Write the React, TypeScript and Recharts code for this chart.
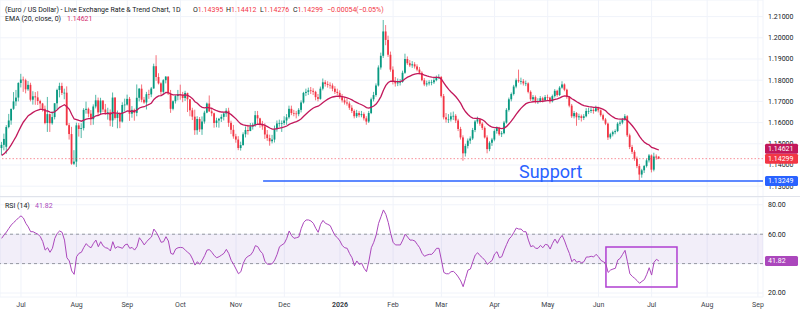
import React from 'react';
import {
  ComposedChart,
  Bar,
  Line,
  XAxis,
  YAxis,
  CartesianGrid,
  ReferenceLine,
  ReferenceArea,
  ReferenceDot,
} from 'recharts';

// ---------------- data (daily EUR/USD bars; index 0 = 1 Jul 2025) ----------------
const FIRST_BAR = -8;

const OPEN = [
  1.1480, 1.1495, 1.1486, 1.1579, 1.1610, 1.1665, 1.1700, 1.1718, 1.1787, 1.1803,
  1.1800, 1.1757, 1.1778, 1.1708, 1.1724, 1.1719, 1.1702, 1.1690, 1.1665, 1.1598,
  1.1640, 1.1597, 1.1626, 1.1691, 1.1754, 1.1773, 1.1740, 1.1741, 1.1588, 1.1546,
  1.1406, 1.1416, 1.1587, 1.1570, 1.1574, 1.1660, 1.1665, 1.1642, 1.1616, 1.1676,
  1.1705, 1.1648, 1.1704, 1.1662, 1.1647, 1.1649, 1.1610, 1.1718, 1.1622, 1.1642,
  1.1605, 1.1683, 1.1685, 1.1712, 1.1642, 1.1660, 1.1646, 1.1717, 1.1760, 1.1708,
  1.1695, 1.1734, 1.1733, 1.1761, 1.1866, 1.1815, 1.1785, 1.1745, 1.1800, 1.1817,
  1.1737, 1.1665, 1.1701, 1.1725, 1.1734, 1.1730, 1.1716, 1.1740, 1.1710, 1.1658,
  1.1628, 1.1564, 1.1617, 1.1568, 1.1605, 1.1647, 1.1690, 1.1653, 1.1644, 1.1598,
  1.1610, 1.1618, 1.1627, 1.1643, 1.1656, 1.1599, 1.1566, 1.1535, 1.1520, 1.1480,
  1.1494, 1.1545, 1.1565, 1.1560, 1.1582, 1.1590, 1.1635, 1.1620, 1.1591, 1.1582,
  1.1544, 1.1527, 1.1512, 1.1520, 1.1569, 1.1596, 1.1597, 1.1598, 1.1610, 1.1625,
  1.1665, 1.1645, 1.1643, 1.1640, 1.1660, 1.1695, 1.1740, 1.1745, 1.1752, 1.1750,
  1.1745, 1.1720, 1.1712, 1.1760, 1.1790, 1.1782, 1.1778, 1.1775, 1.1760, 1.1745,
  1.1740, 1.1720, 1.1705, 1.1695, 1.1690, 1.1670, 1.1655, 1.1630, 1.1645, 1.1635,
  1.1640, 1.1620, 1.1605, 1.1645, 1.1710, 1.1730, 1.1775, 1.1860, 1.1915, 1.2030,
  1.1990, 1.1920, 1.1850, 1.1795, 1.1785, 1.1790, 1.1792, 1.1835, 1.1900, 1.1880,
  1.1870, 1.1875, 1.1865, 1.1850, 1.1835, 1.1800, 1.1780, 1.1785, 1.1790, 1.1790,
  1.1800, 1.1815, 1.1815, 1.1725, 1.1625, 1.1615, 1.1615, 1.1630, 1.1632, 1.1610,
  1.1570, 1.1530, 1.1455, 1.1490, 1.1515, 1.1525, 1.1565, 1.1605, 1.1615, 1.1595,
  1.1575, 1.1530, 1.1475, 1.1505, 1.1520, 1.1560, 1.1575, 1.1545, 1.1550, 1.1600,
  1.1660, 1.1710, 1.1735, 1.1770, 1.1800, 1.1795, 1.1795, 1.1785, 1.1785, 1.1745,
  1.1710, 1.1720, 1.1700, 1.1700, 1.1715, 1.1705, 1.1720, 1.1718, 1.1700, 1.1725,
  1.1750, 1.1730, 1.1765, 1.1780, 1.1755, 1.1720, 1.1680, 1.1630, 1.1645, 1.1625,
  1.1630, 1.1622, 1.1630, 1.1655, 1.1655, 1.1660, 1.1655, 1.1668, 1.1658, 1.1635,
  1.1615, 1.1595, 1.1530, 1.1545, 1.1555, 1.1560, 1.1595, 1.1600, 1.1615, 1.1630,
  1.1540, 1.1485, 1.1462, 1.1430, 1.1395, 1.1355, 1.1375, 1.1395, 1.1422, 1.1445,
  1.1378, 1.1440, 1.14395,
];

const HIGH = [
  1.1509, 1.1548, 1.1588, 1.1641, 1.1665, 1.1744, 1.1754, 1.1790, 1.1830, 1.1817,
  1.1807, 1.1796, 1.1788, 1.1748, 1.1744, 1.1748, 1.1708, 1.1693, 1.1680, 1.1721,
  1.1643, 1.1653, 1.1692, 1.1760, 1.1788, 1.1788, 1.1760, 1.1771, 1.1598, 1.1580,
  1.1470, 1.1600, 1.1598, 1.1597, 1.1668, 1.1699, 1.1671, 1.1659, 1.1686, 1.1731,
  1.1718, 1.1717, 1.1705, 1.1688, 1.1670, 1.1662, 1.1742, 1.1720, 1.1657, 1.1650,
  1.1696, 1.1713, 1.1732, 1.1721, 1.1678, 1.1666, 1.1780, 1.1763, 1.1780, 1.1721,
  1.1745, 1.1755, 1.1768, 1.1878, 1.1918, 1.1833, 1.1790, 1.1805, 1.1819, 1.1818,
  1.1754, 1.1705, 1.1730, 1.1754, 1.1779, 1.1745, 1.1750, 1.1741, 1.1711, 1.1670,
  1.1661, 1.1630, 1.1626, 1.1629, 1.1656, 1.1695, 1.1728, 1.1670, 1.1647, 1.1623,
  1.1622, 1.1639, 1.1650, 1.1668, 1.1670, 1.1609, 1.1589, 1.1547, 1.1536, 1.1510,
  1.1554, 1.1582, 1.1590, 1.1598, 1.1599, 1.1655, 1.1655, 1.1623, 1.1608, 1.1597,
  1.1565, 1.1543, 1.1542, 1.1586, 1.1610, 1.1614, 1.1610, 1.1630, 1.1640, 1.1680,
  1.1680, 1.1660, 1.1655, 1.1668, 1.1705, 1.1745, 1.1760, 1.1765, 1.1768, 1.1762,
  1.1750, 1.1735, 1.1770, 1.1808, 1.1800, 1.1795, 1.1790, 1.1785, 1.1772, 1.1760,
  1.1752, 1.1735, 1.1720, 1.1712, 1.1700, 1.1682, 1.1662, 1.1660, 1.1655, 1.1655,
  1.1648, 1.1630, 1.1655, 1.1718, 1.1745, 1.1785, 1.1870, 1.1930, 1.2084, 1.2060,
  1.2010, 1.1935, 1.1865, 1.1815, 1.1808, 1.1805, 1.1845, 1.1925, 1.1912, 1.1895,
  1.1890, 1.1885, 1.1875, 1.1862, 1.1842, 1.1810, 1.1798, 1.1800, 1.1802, 1.1812,
  1.1822, 1.1828, 1.1820, 1.1735, 1.1645, 1.1640, 1.1648, 1.1652, 1.1640, 1.1618,
  1.1580, 1.1540, 1.1500, 1.1525, 1.1535, 1.1575, 1.1612, 1.1628, 1.1620, 1.1602,
  1.1582, 1.1540, 1.1512, 1.1528, 1.1568, 1.1582, 1.1580, 1.1560, 1.1608, 1.1668,
  1.1718, 1.1742, 1.1778, 1.1808, 1.1850, 1.1812, 1.1805, 1.1798, 1.1790, 1.1752,
  1.1730, 1.1728, 1.1715, 1.1725, 1.1722, 1.1730, 1.1732, 1.1722, 1.1732, 1.1758,
  1.1755, 1.1772, 1.1795, 1.1785, 1.1760, 1.1725, 1.1688, 1.1655, 1.1650, 1.1642,
  1.1638, 1.1640, 1.1668, 1.1670, 1.1672, 1.1668, 1.1680, 1.1675, 1.1662, 1.1642,
  1.1622, 1.1600, 1.1552, 1.1562, 1.1568, 1.1602, 1.1610, 1.1622, 1.1640, 1.1635,
  1.1548, 1.1495, 1.1470, 1.1440, 1.1405, 1.1382, 1.1400, 1.1430, 1.1452, 1.1450,
  1.1458, 1.1450, 1.14412,
];

const LOW = [
  1.1446, 1.1469, 1.1453, 1.1573, 1.1590, 1.1660, 1.1679, 1.1700, 1.1766, 1.1745,
  1.1738, 1.1750, 1.1700, 1.1685, 1.1684, 1.1683, 1.1662, 1.1652, 1.1592, 1.1556,
  1.1556, 1.1590, 1.1615, 1.1664, 1.1719, 1.1730, 1.1710, 1.1586, 1.1520, 1.1401,
  1.1400, 1.1391, 1.1534, 1.1527, 1.1563, 1.1642, 1.1625, 1.1588, 1.1590, 1.1667,
  1.1630, 1.1640, 1.1650, 1.1637, 1.1614, 1.1583, 1.1580, 1.1614, 1.1573, 1.1574,
  1.1600, 1.1651, 1.1680, 1.1608, 1.1623, 1.1609, 1.1630, 1.1700, 1.1696, 1.1689,
  1.1662, 1.1712, 1.1720, 1.1760, 1.1797, 1.1780, 1.1727, 1.1730, 1.1785, 1.1730,
  1.1646, 1.1658, 1.1690, 1.1705, 1.1708, 1.1696, 1.1702, 1.1650, 1.1630, 1.1612,
  1.1542, 1.1543, 1.1556, 1.1542, 1.1595, 1.1644, 1.1650, 1.1630, 1.1576, 1.1578,
  1.1576, 1.1603, 1.1610, 1.1627, 1.1580, 1.1546, 1.1524, 1.1505, 1.1470, 1.1468,
  1.1491, 1.1530, 1.1543, 1.1560, 1.1567, 1.1580, 1.1590, 1.1576, 1.1566, 1.1523,
  1.1514, 1.1491, 1.1502, 1.1506, 1.1557, 1.1580, 1.1556, 1.1588, 1.1590, 1.1618,
  1.1635, 1.1630, 1.1620, 1.1630, 1.1648, 1.1690, 1.1725, 1.1730, 1.1735, 1.1730,
  1.1705, 1.1700, 1.1708, 1.1752, 1.1770, 1.1765, 1.1760, 1.1748, 1.1735, 1.1730,
  1.1712, 1.1695, 1.1685, 1.1680, 1.1660, 1.1645, 1.1620, 1.1622, 1.1625, 1.1625,
  1.1610, 1.1590, 1.1598, 1.1640, 1.1700, 1.1722, 1.1770, 1.1850, 1.1905, 1.1965,
  1.1910, 1.1840, 1.1780, 1.1770, 1.1772, 1.1775, 1.1788, 1.1830, 1.1872, 1.1862,
  1.1858, 1.1855, 1.1842, 1.1828, 1.1795, 1.1772, 1.1770, 1.1775, 1.1776, 1.1782,
  1.1795, 1.1805, 1.1718, 1.1615, 1.1600, 1.1598, 1.1605, 1.1612, 1.1598, 1.1560,
  1.1520, 1.1420, 1.1440, 1.1478, 1.1500, 1.1518, 1.1555, 1.1595, 1.1585, 1.1565,
  1.1525, 1.1455, 1.1465, 1.1490, 1.1512, 1.1548, 1.1538, 1.1532, 1.1545, 1.1595,
  1.1652, 1.1700, 1.1728, 1.1762, 1.1788, 1.1780, 1.1775, 1.1772, 1.1738, 1.1702,
  1.1698, 1.1690, 1.1688, 1.1695, 1.1695, 1.1700, 1.1705, 1.1690, 1.1695, 1.1718,
  1.1722, 1.1725, 1.1760, 1.1748, 1.1712, 1.1672, 1.1622, 1.1620, 1.1585, 1.1612,
  1.1605, 1.1612, 1.1625, 1.1640, 1.1645, 1.1642, 1.1650, 1.1648, 1.1628, 1.1608,
  1.1588, 1.1518, 1.1522, 1.1535, 1.1545, 1.1555, 1.1585, 1.1592, 1.1608, 1.1532,
  1.1475, 1.1452, 1.1420, 1.1385, 1.1328, 1.1340, 1.1362, 1.1388, 1.1412, 1.1365,
  1.1370, 1.1425, 1.14276,
];

const CLOSE = [
  1.1495, 1.1523, 1.1579, 1.1610, 1.1665, 1.1700, 1.1718, 1.1787, 1.1803, 1.1800,
  1.1757, 1.1778, 1.1708, 1.1724, 1.1719, 1.1702, 1.1690, 1.1665, 1.1598, 1.1640,
  1.1597, 1.1626, 1.1691, 1.1754, 1.1773, 1.1740, 1.1741, 1.1588, 1.1546, 1.1406,
  1.1416, 1.1587, 1.1570, 1.1574, 1.1660, 1.1665, 1.1642, 1.1616, 1.1676, 1.1705,
  1.1648, 1.1704, 1.1662, 1.1647, 1.1649, 1.1610, 1.1718, 1.1622, 1.1642, 1.1605,
  1.1683, 1.1685, 1.1712, 1.1642, 1.1660, 1.1646, 1.1717, 1.1760, 1.1708, 1.1695,
  1.1734, 1.1733, 1.1761, 1.1866, 1.1815, 1.1785, 1.1745, 1.1800, 1.1817, 1.1737,
  1.1665, 1.1701, 1.1725, 1.1734, 1.1730, 1.1716, 1.1740, 1.1710, 1.1658, 1.1628,
  1.1564, 1.1617, 1.1568, 1.1605, 1.1647, 1.1690, 1.1653, 1.1644, 1.1598, 1.1610,
  1.1618, 1.1627, 1.1643, 1.1656, 1.1599, 1.1566, 1.1535, 1.1520, 1.1480, 1.1494,
  1.1545, 1.1565, 1.1560, 1.1582, 1.1590, 1.1635, 1.1620, 1.1591, 1.1582, 1.1544,
  1.1527, 1.1512, 1.1520, 1.1569, 1.1596, 1.1597, 1.1598, 1.1610, 1.1625, 1.1665,
  1.1645, 1.1643, 1.1640, 1.1660, 1.1695, 1.1740, 1.1745, 1.1752, 1.1750, 1.1745,
  1.1720, 1.1712, 1.1760, 1.1790, 1.1782, 1.1778, 1.1775, 1.1760, 1.1745, 1.1740,
  1.1720, 1.1705, 1.1695, 1.1690, 1.1670, 1.1655, 1.1630, 1.1645, 1.1635, 1.1640,
  1.1620, 1.1605, 1.1645, 1.1710, 1.1730, 1.1775, 1.1860, 1.1915, 1.2030, 1.1990,
  1.1920, 1.1850, 1.1795, 1.1785, 1.1790, 1.1792, 1.1835, 1.1900, 1.1880, 1.1870,
  1.1875, 1.1865, 1.1850, 1.1835, 1.1800, 1.1780, 1.1785, 1.1790, 1.1790, 1.1800,
  1.1815, 1.1815, 1.1725, 1.1625, 1.1615, 1.1615, 1.1630, 1.1632, 1.1610, 1.1570,
  1.1530, 1.1455, 1.1490, 1.1515, 1.1525, 1.1565, 1.1605, 1.1615, 1.1595, 1.1575,
  1.1530, 1.1475, 1.1505, 1.1520, 1.1560, 1.1575, 1.1545, 1.1550, 1.1600, 1.1660,
  1.1710, 1.1735, 1.1770, 1.1800, 1.1795, 1.1795, 1.1785, 1.1785, 1.1745, 1.1710,
  1.1720, 1.1700, 1.1700, 1.1715, 1.1705, 1.1720, 1.1718, 1.1700, 1.1725, 1.1750,
  1.1730, 1.1765, 1.1780, 1.1755, 1.1720, 1.1680, 1.1630, 1.1645, 1.1625, 1.1630,
  1.1622, 1.1630, 1.1655, 1.1655, 1.1660, 1.1655, 1.1668, 1.1658, 1.1635, 1.1615,
  1.1595, 1.1530, 1.1545, 1.1555, 1.1560, 1.1595, 1.1600, 1.1615, 1.1630, 1.1540,
  1.1485, 1.1462, 1.1430, 1.1395, 1.1355, 1.1375, 1.1395, 1.1422, 1.1445, 1.1378,
  1.1440, 1.14353, 1.14299,
];

const RSI14 = [
  57.2, 59.5, 61.5, 64.0, 66.3, 68.0, 69.5, 71.2, 72.5, 71.0,
  67.4, 65.0, 61.7, 61.7, 60.8, 60.0, 58.3, 55.0, 49.2, 50.8,
  47.7, 50.4, 57.2, 60.6, 62.2, 61.3, 56.0, 44.0, 41.8, 35.0,
  32.7, 44.7, 47.0, 47.7, 51.0, 53.6, 51.7, 50.8, 53.8, 56.0,
  51.5, 54.9, 52.0, 50.8, 50.4, 48.6, 54.9, 50.4, 51.5, 51.0,
  50.4, 52.7, 53.3, 50.4, 51.0, 49.2, 51.5, 57.6, 55.4, 52.7,
  54.9, 56.7, 58.1, 63.5, 61.3, 58.1, 54.5, 54.9, 58.3, 55.4,
  47.0, 46.3, 49.9, 50.8, 51.0, 50.8, 49.2, 47.7, 46.3, 43.1,
  39.0, 41.3, 39.5, 42.2, 45.4, 49.2, 49.5, 47.7, 45.4, 44.0,
  44.7, 45.8, 47.0, 49.7, 46.8, 42.2, 39.5, 36.3, 33.1, 34.5,
  40.2, 43.6, 45.0, 45.8, 48.1, 52.2, 51.5, 48.6, 46.8, 41.3,
  39.7, 39.5, 40.0, 42.4, 46.3, 51.5, 52.7, 53.8, 57.2, 62.2,
  59.0, 57.2, 57.6, 58.1, 64.0, 68.0, 69.7, 69.7, 69.0, 67.4,
  64.0, 61.3, 66.7, 69.4, 67.4, 66.7, 65.8, 62.2, 59.0, 57.6,
  55.4, 52.2, 50.8, 50.4, 46.8, 44.0, 38.6, 41.8, 39.5, 40.2,
  36.8, 34.5, 41.8, 50.8, 54.5, 59.5, 67.4, 71.9, 76.5, 73.5,
  68.0, 60.6, 54.5, 52.7, 52.7, 52.7, 56.0, 60.0, 58.1, 56.0,
  56.0, 55.4, 53.1, 50.8, 47.0, 45.0, 45.8, 46.3, 46.3, 48.1,
  50.4, 50.4, 42.4, 34.0, 33.1, 33.1, 34.5, 34.7, 33.1, 30.9,
  28.2, 24.3, 30.0, 35.6, 36.3, 41.3, 45.8, 47.4, 45.4, 44.0,
  42.2, 39.5, 40.9, 42.2, 46.5, 48.1, 44.0, 44.7, 49.2, 53.1,
  56.7, 58.5, 61.3, 64.2, 63.5, 63.5, 61.7, 61.7, 56.0, 51.5,
  52.2, 50.4, 50.4, 52.4, 50.8, 53.1, 52.7, 49.9, 53.8, 56.7,
  53.8, 57.2, 59.2, 55.4, 50.8, 46.8, 41.3, 43.1, 40.9, 41.5,
  40.6, 41.3, 44.5, 44.5, 45.0, 44.5, 46.3, 44.7, 42.2, 41.3,
  40.2, 34.0, 35.6, 36.3, 36.8, 42.4, 43.6, 46.3, 49.0, 41.3,
  33.1, 31.3, 30.0, 28.4, 26.6, 27.9, 29.1, 32.7, 37.2, 32.2,
  40.9, 42.9, 41.82,
];

// EMA(20, close): value just before the first visible bar
const EMA_PRIOR = 1.144;
const EMA_LENGTH = 20;
const EMA_LAST_LABEL = 1.14621;

const SUPPORT_LEVEL = 1.13249;
const SUPPORT_START_BAR = 100.2;
const SUPPORT_TEXT_BAR = 206.1;
const SUPPORT_TEXT_PRICE = 1.1341;

const MONTH_IDX = [0, 23, 44, 66, 89, 109, 132, 154, 174, 196, 218, 239, 261, 284, 305];
const MONTH_LABELS = ['Jul', 'Aug', 'Sep', 'Oct', 'Nov', 'Dec', '2026', 'Feb', 'Mar', 'Apr', 'May', 'Jun', 'Jul', 'Aug', 'Sep'];

const PRICE_TICKS = [1.13, 1.14, 1.15, 1.16, 1.17, 1.18, 1.19, 1.2, 1.21];
const RSI_TICKS = [20, 40, 60, 80];
const RSI_UPPER = 60;
const RSI_LOWER = 40;
const RSI_BOX = { x1: 242.1, x2: 271.5, y1: 24.1, y2: 51.3 };

// visible ranges
const X_DOMAIN: [number, number] = [-8.69, 307.1];
const PRICE_DOMAIN: [number, number] = [1.124906, 1.21783];
const RSI_DOMAIN: [number, number] = [17.28, 85.31];

// ---------------- styling ----------------
const UP = '#089981';
const DOWN = '#f23645';
const EMA_COLOR = '#c2185b';
const RSI_COLOR = '#ab47bc';
const SUPPORT_COLOR = '#2962ff';
const GRID = '#f0f3fa';
const TEXT = '#131722';
const AXIS_TEXT = '#3b3f4a';
const FONT = "Roboto, 'Noto Sans', 'DejaVu Sans', sans-serif";
const AXIS_W = 37;

// ---------------- derived rows ----------------
const emaValues: number[] = [];
{
  const a = 2 / (EMA_LENGTH + 1);
  let e = EMA_PRIOR;
  for (const c of CLOSE) {
    e = e + a * (c - e);
    emaValues.push(e);
  }
}

const rows = CLOSE.map((c, k) => ({
  i: FIRST_BAR + k,
  o: OPEN[k],
  h: HIGH[k],
  l: LOW[k],
  c,
  range: [LOW[k], HIGH[k]],
  ema: emaValues[k],
  rsi: RSI14[k],
}));

const last = rows.length - 1;
const chg = CLOSE[last] - CLOSE[last - 1];
const chgPct = (chg / CLOSE[last - 1]) * 100;
const fmtSigned = (v: number, d: number) => (v < 0 ? '\u2212' : '+') + Math.abs(v).toFixed(d);

// ---------------- shapes ----------------
const Candle = (props: any) => {
  const { x, y, width, height, payload } = props;
  if (x == null || y == null || !payload) return null;
  const { o, h, l, c } = payload;
  const top = Math.min(y, y + height);
  const span = Math.abs(height);
  const k = h > l ? span / (h - l) : 0;
  const bodyTop = top + (h - Math.max(o, c)) * k;
  const bodyH = Math.max(Math.abs(o - c) * k, 0.7);
  const cx = x + width / 2;
  const col = c >= o ? UP : DOWN;
  return (
    <g>
      <line x1={cx} x2={cx} y1={top} y2={top + span} stroke={col} strokeWidth={0.7} />
      <rect x={cx - 0.9} y={bodyTop} width={1.8} height={bodyH} fill={col} />
    </g>
  );
};

const AxisTag = ({ viewBox, text, bg, dy = 0 }: any) => {
  if (!viewBox) return null;
  const right = viewBox.x + viewBox.width;
  const cy = viewBox.y + dy;
  return (
    <g>
      <rect x={right + 2} y={cy - 5} width={33} height={10} rx={1.5} fill={bg} />
      <text x={right + 5} y={cy} dominantBaseline="central" fontSize={7} fill="#ffffff" fontFamily={FONT}>
        {text}
      </text>
    </g>
  );
};

const SupportText = ({ viewBox }: any) => {
  if (!viewBox) return null;
  return (
    <text x={viewBox.x} y={viewBox.y} fontSize={18} fill={SUPPORT_COLOR} fontFamily={FONT}>
      Support
    </text>
  );
};

const MonthTick = (props: any) => {
  const { x, y, payload } = props;
  const k = MONTH_IDX.indexOf(payload.value);
  if (k < 0) return null;
  const label = MONTH_LABELS[k];
  return (
    <text
      x={x}
      y={y + 8}
      textAnchor="middle"
      dominantBaseline="central"
      fontSize={7}
      fontWeight={label === '2026' ? 700 : 400}
      fill={AXIS_TEXT}
      fontFamily={FONT}
    >
      {label}
    </text>
  );
};

const span = (left: number, top: number, children: React.ReactNode) => (
  <div style={{ position: 'absolute', left, top, whiteSpace: 'nowrap', lineHeight: '9px' }}>{children}</div>
);

export default function App() {
  const red = (s: string) => <span style={{ color: DOWN }}>{s}</span>;
  return (
    <div
      style={{
        position: 'absolute',
        left: 0,
        top: 0,
        width: 800,
        height: 315,
        background: '#ffffff',
        fontFamily: FONT,
        overflow: 'hidden',
      }}
    >
      {/* price pane */}
      <div style={{ position: 'absolute', left: 0, top: 0 }}>
        <ComposedChart width={800} height={197} data={rows} margin={{ top: 0, right: 0, bottom: 0, left: 0 }}>
          <CartesianGrid stroke={GRID} strokeWidth={1} />
          <XAxis type="number" dataKey="i" domain={X_DOMAIN} ticks={MONTH_IDX} allowDataOverflow hide />
          <YAxis
            type="number"
            orientation="right"
            width={AXIS_W}
            domain={PRICE_DOMAIN}
            ticks={PRICE_TICKS}
            interval={0}
            allowDataOverflow
            axisLine={false}
            tickLine={false}
            tickSize={0}
            tickMargin={5}
            tick={{ fontSize: 7, fill: TEXT }}
            tickFormatter={(v: number) => v.toFixed(5)}
          />
          <ReferenceLine
            y={CLOSE[last]}
            stroke={DOWN}
            strokeOpacity={0.55}
            strokeDasharray="1.5 2"
            strokeWidth={1}
          />
          <ReferenceLine
            segment={[
              { x: SUPPORT_START_BAR, y: SUPPORT_LEVEL },
              { x: X_DOMAIN[1], y: SUPPORT_LEVEL },
            ]}
            stroke={SUPPORT_COLOR}
            strokeWidth={1.5}
          />
          <Bar dataKey="range" shape={Candle} barSize={2} isAnimationActive={false} />
          <Line
            dataKey="ema"
            type="linear"
            stroke={EMA_COLOR}
            strokeWidth={1.3}
            dot={false}
            activeDot={false}
            legendType="none"
            isAnimationActive={false}
          />
        </ComposedChart>
      </div>

      {/* price pane annotations (drawn above the axis) */}
      <div style={{ position: 'absolute', left: 0, top: 0 }}>
        <ComposedChart width={800} height={197} data={rows} margin={{ top: 0, right: AXIS_W, bottom: 0, left: 0 }}>
          <XAxis type="number" dataKey="i" domain={X_DOMAIN} allowDataOverflow hide />
          <YAxis type="number" domain={PRICE_DOMAIN} allowDataOverflow hide />
          <ReferenceDot
            x={SUPPORT_TEXT_BAR}
            y={SUPPORT_TEXT_PRICE}
            r={0}
            fill="none"
            stroke="none"
            label={(p: any) => <SupportText viewBox={p.viewBox} />}
          />
          <ReferenceLine
            y={SUPPORT_LEVEL}
            stroke="none"
            label={(p: any) => <AxisTag viewBox={p.viewBox} text={SUPPORT_LEVEL.toFixed(5)} bg={SUPPORT_COLOR} />}
          />
          <ReferenceLine
            y={CLOSE[last]}
            stroke="none"
            label={(p: any) => <AxisTag viewBox={p.viewBox} text={CLOSE[last].toFixed(5)} bg={DOWN} />}
          />
          <ReferenceLine
            y={EMA_LAST_LABEL}
            stroke="none"
            label={(p: any) => <AxisTag viewBox={p.viewBox} text={EMA_LAST_LABEL.toFixed(5)} bg={EMA_COLOR} dy={-3} />}
          />
        </ComposedChart>
      </div>

      {/* pane separator */}
      <div style={{ position: 'absolute', left: 0, top: 196, width: 800, height: 1, background: '#e0e3eb' }} />

      {/* RSI pane */}
      <div style={{ position: 'absolute', left: 0, top: 197 }}>
        <ComposedChart width={800} height={118} data={rows} margin={{ top: 0, right: 0, bottom: 0, left: 0 }}>
          <CartesianGrid stroke={GRID} strokeWidth={1} />
          <ReferenceArea y1={RSI_LOWER} y2={RSI_UPPER} fill="#7e57c2" fillOpacity={0.1} stroke="none" />
          <ReferenceLine y={RSI_UPPER} stroke="#9598a1" strokeDasharray="3 3" strokeWidth={1} />
          <ReferenceLine y={RSI_LOWER} stroke="#9598a1" strokeDasharray="3 3" strokeWidth={1} />
          <XAxis
            type="number"
            dataKey="i"
            domain={X_DOMAIN}
            ticks={MONTH_IDX}
            interval={0}
            allowDataOverflow
            height={18}
            axisLine={false}
            tickLine={false}
            tickSize={0}
            tickMargin={0}
            tick={<MonthTick />}
          />
          <YAxis
            type="number"
            orientation="right"
            width={AXIS_W}
            domain={RSI_DOMAIN}
            ticks={RSI_TICKS}
            interval={0}
            allowDataOverflow
            axisLine={false}
            tickLine={false}
            tickSize={0}
            tickMargin={5}
            tick={{ fontSize: 7, fill: TEXT }}
            tickFormatter={(v: number) => (v === RSI_LOWER ? '' : v.toFixed(2))}
          />
          <Line
            dataKey="rsi"
            type="linear"
            stroke={RSI_COLOR}
            strokeWidth={1}
            dot={false}
            activeDot={false}
            legendType="none"
            isAnimationActive={false}
          />
          <ReferenceArea
            x1={RSI_BOX.x1}
            x2={RSI_BOX.x2}
            y1={RSI_BOX.y1}
            y2={RSI_BOX.y2}
            fill="none"
            stroke="#b03fd1"
            strokeWidth={1.5}
            fillOpacity={0}
          />
        </ComposedChart>
      </div>

      {/* RSI value tag (drawn above the axis) */}
      <div style={{ position: 'absolute', left: 0, top: 197 }}>
        <ComposedChart width={800} height={118} data={rows} margin={{ top: 0, right: AXIS_W, bottom: 18, left: 0 }}>
          <XAxis type="number" dataKey="i" domain={X_DOMAIN} allowDataOverflow hide />
          <YAxis type="number" domain={RSI_DOMAIN} allowDataOverflow hide />
          <ReferenceLine
            y={RSI14[last]}
            stroke="none"
            label={(p: any) => <AxisTag viewBox={p.viewBox} text={RSI14[last].toFixed(2)} bg={RSI_COLOR} />}
          />
        </ComposedChart>
      </div>

      {/* legends */}
      <div style={{ position: 'absolute', left: 0, top: 0, fontSize: 7, color: TEXT, pointerEvents: 'none' }}>
        {span(5, 5.5, '(Euro / US Dollar) - Live Exchange Rate & Trend Chart, 1D')}
        {span(193, 5.5, <>O{red(OPEN[last].toFixed(5))}</>)}
        {span(226, 5.5, <>H{red(HIGH[last].toFixed(5))}</>)}
        {span(260, 5.5, <>L{red(LOW[last].toFixed(5))}</>)}
        {span(293, 5.5, <>C{red(CLOSE[last].toFixed(5))}</>)}
        {span(327, 5.5, red(fmtSigned(chg, 5)))}
        {span(356, 5.5, red('(' + fmtSigned(chgPct, 2) + '%)'))}
        {span(5, 14.5, 'EMA (20, close, 0)')}
        {span(67, 14.5, <span style={{ color: '#d42a6b' }}>{EMA_LAST_LABEL.toFixed(5)}</span>)}
        {span(5, 202, 'RSI (14)')}
        {span(35, 202, <span style={{ color: RSI_COLOR }}>{RSI14[last].toFixed(2)}</span>)}
      </div>
    </div>
  );
}
